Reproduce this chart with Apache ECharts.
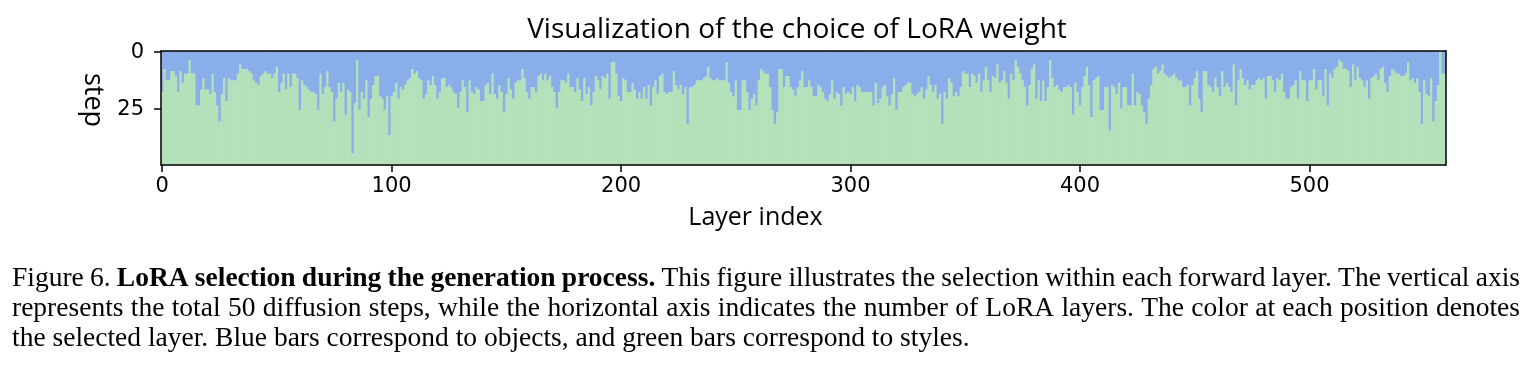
<!DOCTYPE html>
<html>
<head>
<meta charset="utf-8">
<script src="https://cdn.jsdelivr.net/npm/echarts@6/dist/echarts.min.js"></script>
<style>
html,body{margin:0;padding:0;background:#fff;}
#chart{width:1532px;height:376px;}
</style>
</head>
<body>
<div id="chart"></div>
<script>
// Step (0-49) at which each layer's choice switches from the object LoRA (blue, above)
// to the style LoRA (green, below). Layer by layer.
const switchLayers000to067 = [18,8,13,13,9,9,11,18,9,14,10,10,4,10,10,24,24,17,12,17,17,19,10,18,24,31,19,12,22,12,13,13,13,10,6,8,8,8,9,10,13,14,15,11,10,9,10,10,12,10,7,18,14,10,17,10,16,10,10,12,26,13,15,16,17,18,18,19];
const switchLayers068to138 = [26,10,19,16,9,16,18,31,21,14,18,14,28,17,18,45,23,4,26,18,21,13,29,21,15,11,11,20,21,26,20,37,20,18,14,21,16,17,15,13,12,8,10,9,12,13,21,19,13,15,11,15,21,18,12,12,16,15,16,18,19,25,18,13,16,27,13,18,19,16,17];
const switchLayers139to208 = [22,22,15,14,19,10,19,21,15,18,27,19,12,17,21,14,13,13,8,12,18,21,16,16,18,11,10,13,10,13,11,16,18,25,18,13,13,14,10,16,16,18,12,17,22,12,19,16,24,18,11,13,17,11,12,10,21,5,5,10,20,22,12,13,18,18,14,17,21,18];
const switchLayers209to278 = [21,16,21,15,24,16,13,19,11,10,18,19,18,18,9,15,17,15,19,16,32,16,16,15,13,13,13,12,11,7,12,13,13,12,13,13,13,5,14,18,20,13,26,26,13,13,18,26,21,19,24,13,8,9,10,10,16,26,32,27,8,8,16,11,11,16,17,20,16,13];
const switchLayers279to348 = [9,16,16,13,16,20,20,15,16,18,21,22,19,13,21,18,19,24,16,19,18,19,16,22,15,16,18,18,18,18,18,24,14,23,21,16,15,20,24,19,12,26,18,18,16,15,14,14,19,20,19,18,16,21,17,11,15,18,15,21,19,32,18,21,12,14,20,18,20,16];
const switchLayers349to417 = [9,10,10,16,10,11,14,10,18,13,7,13,18,11,12,6,14,13,9,14,21,10,13,4,7,10,13,16,24,15,8,6,21,13,22,13,22,16,4,12,16,15,17,18,16,16,15,16,28,14,18,24,16,11,7,15,29,13,12,11,26,26,16,16,35,15,16,19,14];
const switchLayers418to487 = [25,16,16,24,24,10,24,18,19,24,27,32,21,15,8,7,10,9,6,10,11,12,11,10,12,13,13,16,16,15,24,15,12,9,21,27,9,9,15,16,18,12,16,20,9,16,14,16,18,6,24,13,8,12,15,13,17,15,15,13,12,13,12,21,11,11,13,18,12,13];
const switchLayers488to559 = [10,18,21,21,16,15,13,21,9,13,13,22,13,13,8,17,13,13,20,8,24,10,12,8,7,4,5,8,8,9,16,6,13,7,12,13,16,13,21,12,11,10,13,8,7,14,18,11,8,9,10,10,11,11,10,5,13,12,14,12,18,32,13,19,20,12,31,22,15,0,10,10];

const switchStep = [].concat(switchLayers000to067, switchLayers068to138, switchLayers139to208,
  switchLayers209to278, switchLayers279to348, switchLayers349to417, switchLayers418to487, switchLayers488to559);

const TOTAL_STEPS = 50;
const layerCategories = switchStep.map(function (_, i) { return String(i); });
const stepCategories = Array.from({ length: TOTAL_STEPS }, function (_, i) { return String(i); });
const xTickLabels = ['0', '100', '200', '300', '400', '500'];
const yTickLabels = ['0', '25'];

const titleText = 'Visualization of the choice of LoRA weight';
const xAxisName = 'Layer index';
const yAxisName = 'step';
const captionLines = [
  'Figure 6. **LoRA selection during the generation process.** This figure illustrates the selection within each forward layer. The vertical axis',
  'represents the total 50 diffusion steps, while the horizontal axis indicates the number of LoRA layers. The color at each position denotes',
  'the selected layer. Blue bars correspond to objects, and green bars correspond to styles.'
];

const BLUE = '#8aaee9';
const GREEN = '#b3e1ba';
const HAND = '"Open Sans", "DejaVu Sans", sans-serif';
const TICKFONT = '"DejaVu Sans", sans-serif';

const chart = echarts.init(document.getElementById('chart'), null, { renderer: 'canvas' });

function xShow(index, value) { return xTickLabels.indexOf(value) >= 0; }
function yShow(index, value) { return yTickLabels.indexOf(value) >= 0; }

function renderColumn(params, api) {
  const layer = api.value(0);
  const sw = api.value(1);
  const c = api.coord([layer, 0]);
  const size = api.size([1, 1]);
  const w = size[0], h = size[1];
  const x0 = c[0] - w / 2;
  const top = c[1] - h / 2;
  const mid = top + sw * h;
  const bottom = top + TOTAL_STEPS * h;
  return {
    type: 'group',
    children: [
      { type: 'rect', shape: { x: x0, y: top, width: w + 0.7, height: mid - top }, style: { fill: BLUE } },
      { type: 'rect', shape: { x: x0, y: mid, width: w + 0.7, height: bottom - mid }, style: { fill: GREEN } }
    ]
  };
}

// Caption: justified lines, laid out with measured word widths
const CAP_SIZE = 27.5;
const CAP_LEFT = 12, CAP_RIGHT = 1520;
const CAP_MID_Y = [279, 309, 339];
const measureCtx = document.createElement('canvas').getContext('2d');
function capFont(bold) { return (bold ? 'bold ' : '') + CAP_SIZE + 'px "Liberation Serif", "Times New Roman", serif'; }
function buildCaption() {
  const els = [];
  captionLines.forEach(function (line, li) {
    const parts = line.split('**');
    const words = [];
    parts.forEach(function (p, pi) {
      p.split(' ').forEach(function (wd) { if (wd.length) words.push({ t: wd, b: pi % 2 === 1 }); });
    });
    words.forEach(function (wd) { measureCtx.font = capFont(wd.b); wd.w = measureCtx.measureText(wd.t).width; });
    const total = words.reduce(function (s, wd) { return s + wd.w; }, 0);
    measureCtx.font = capFont(false);
    const natural = measureCtx.measureText(' ').width;
    const last = li === captionLines.length - 1;
    const gap = last ? natural : (CAP_RIGHT - CAP_LEFT - total) / (words.length - 1);
    let x = CAP_LEFT;
    words.forEach(function (wd) {
      els.push({ type: 'text', x: x, y: CAP_MID_Y[li], silent: true, z: 100,
        style: { text: wd.t, font: capFont(wd.b), fill: '#000', align: 'left', verticalAlign: 'middle' } });
      x += wd.w + gap;
    });
  });
  return els;
}

const frameLine = { show: true, lineStyle: { color: '#000', width: 1.5 } };

const option = {
  animation: false,
  backgroundColor: '#fff',
  title: {
    text: titleText, left: 792, top: 11, textAlign: 'center',
    textStyle: { fontFamily: HAND, fontSize: 28, fontWeight: 'normal', color: '#000' }
  },
  grid: { left: 161, right: 86, top: 51, bottom: 211, containLabel: false },
  xAxis: [{
    type: 'category', data: layerCategories, position: 'bottom', boundaryGap: true, z: 10,
    axisLine: frameLine,
    axisTick: { show: true, alignWithLabel: true, interval: xShow, length: 7, lineStyle: { color: '#000', width: 1.5 } },
    axisLabel: { interval: xShow, margin: 11, fontFamily: TICKFONT, fontSize: 21, color: '#000' },
    splitLine: { show: false },
    name: xAxisName, nameLocation: 'middle', nameGap: 40,
    nameTextStyle: { fontFamily: HAND, fontSize: 25, color: '#000', padding: [0, 96, 0, 0] }
  }, {
    type: 'category', data: layerCategories, position: 'top', boundaryGap: true, z: 10,
    axisLine: frameLine, axisTick: { show: false }, axisLabel: { show: false }, splitLine: { show: false }
  }],
  yAxis: [{
    type: 'category', data: stepCategories, inverse: true, position: 'left', boundaryGap: true, z: 10,
    axisLine: frameLine,
    axisTick: { show: true, alignWithLabel: true, interval: yShow, length: 7, lineStyle: { color: '#000', width: 1.5 } },
    axisLabel: { interval: yShow, margin: 17, fontFamily: TICKFONT, fontSize: 21, color: '#000' },
    splitLine: { show: false },
    name: yAxisName, nameLocation: 'middle', nameGap: 46, nameRotate: -90,
    nameTextStyle: { fontFamily: HAND, fontSize: 27, color: '#000', padding: [0, 16, 0, 0] }
  }, {
    type: 'category', data: stepCategories, inverse: true, position: 'right', boundaryGap: true, z: 10,
    axisLine: frameLine, axisTick: { show: false }, axisLabel: { show: false }, splitLine: { show: false }
  }],
  series: [{
    type: 'custom', xAxisIndex: 0, yAxisIndex: 0, silent: true, clip: true,
    data: switchStep.map(function (s, i) { return [i, s]; }),
    encode: { x: 0, y: 1 },
    renderItem: renderColumn
  }],
  graphic: buildCaption()
};

chart.setOption(option);
</script>
</body>
</html>
